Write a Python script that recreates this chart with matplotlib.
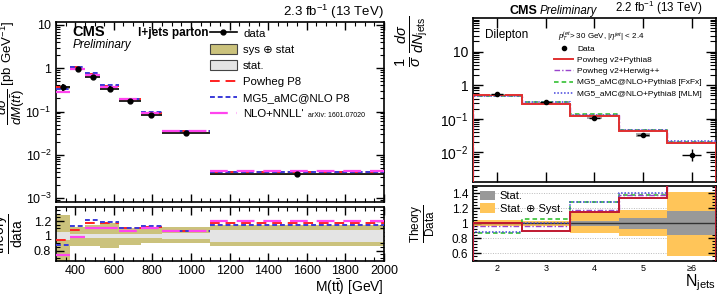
import numpy as np
import matplotlib
matplotlib.use("Agg")
import matplotlib.pyplot as plt
from matplotlib.patches import Patch, Rectangle
from matplotlib.lines import Line2D
from matplotlib.ticker import FixedLocator, MultipleLocator, NullFormatter, LogLocator

plt.rcParams['font.family'] = ['Liberation Sans', 'DejaVu Sans']
plt.rcParams['mathtext.fontset'] = 'custom'
plt.rcParams['mathtext.rm'] = 'Liberation Sans'
plt.rcParams['mathtext.it'] = 'Liberation Sans:italic'
plt.rcParams['mathtext.bf'] = 'Liberation Sans:bold'

# ---------------- left panel data: M(ttbar) ----------------
mtt_edges = [300, 375, 450, 530, 625, 740, 850, 1100, 2000]
mtt_data = [0.37, 0.97, 0.64, 0.34, 0.178, 0.085, 0.032, 0.0035]
mtt_data_err = [0.07, 0.06, 0.05, 0.04, 0.012, 0.006, 0.002, 0.0003]
mtt_powheg = [0.36, 1.05, 0.74, 0.39, 0.195, 0.094, 0.035, 0.0041]
mtt_mg5 = [0.33, 1.08, 0.77, 0.40, 0.197, 0.095, 0.0345, 0.0040]
mtt_nnll = [0.28, 0.95, 0.70, 0.37, 0.19, 0.093, 0.035, 0.0042]
ratio_powheg = [0.95, 1.08, 1.18, 1.17, 1.10, 1.12, 1.07, 1.18]
ratio_mg5 = [0.88, 1.13, 1.22, 1.19, 1.11, 1.13, 1.06, 1.15]
ratio_nnll = [0.74, 0.98, 1.10, 1.10, 1.07, 1.10, 1.07, 1.20]
tot_up = [1.28, 1.12, 1.15, 1.17, 1.10, 1.12, 1.12, 1.15]
tot_dn = [0.60, 0.86, 0.86, 0.83, 0.88, 0.90, 0.90, 0.86]
stat_up = [1.05, 1.03, 1.03, 1.03, 1.03, 1.03, 1.04, 1.08]
stat_dn = [0.95, 0.97, 0.97, 0.97, 0.97, 0.97, 0.96, 0.92]

# ---------------- right panel data: N_jets ----------------
nj_labels = ['2', '3', '4', '5', '≥6']
nj_data = [0.53, 0.31, 0.105, 0.033, 0.0085]
nj_data_lo = [0.50, 0.30, 0.095, 0.029, 0.0055]
nj_data_hi = [0.56, 0.32, 0.115, 0.037, 0.0125]
nj_powheg_p8 = [0.52, 0.28, 0.118, 0.042, 0.019]
nj_powheg_hw = [0.51, 0.30, 0.125, 0.045, 0.020]
nj_mg5_fxfx = [0.47, 0.32, 0.134, 0.046, 0.020]
nj_mg5_mlm = [0.48, 0.31, 0.133, 0.047, 0.021]
nj_r_powheg_p8 = [1.00, 0.90, 1.15, 1.33, 1.60]
nj_r_powheg_hw = [0.96, 0.97, 1.17, 1.37, 1.60]
nj_r_mg5_fxfx = [0.87, 1.05, 1.28, 1.38, 1.60]
nj_r_mg5_mlm = [0.89, 1.00, 1.28, 1.40, 1.60]
nj_syst_up = [1.04, 1.03, 1.15, 1.17, 1.42]
nj_syst_dn = [0.96, 0.97, 0.87, 0.83, 0.57]
nj_stat_up = [1.01, 1.01, 1.03, 1.07, 1.16]
nj_stat_dn = [0.99, 0.99, 0.97, 0.93, 0.84]

OLIVE = '#cbc27c'
LGRAY = '#e4e4e4'
ORANGE = '#ffc559'
DGRAY = '#999999'
RED = '#ff2020'
BLUE = '#3a3ad8'
MAG = '#ff44ee'

fig = plt.figure(figsize=(7.24, 2.96), dpi=100)

def style(ax, labelsize):
    ax.tick_params(which='both', direction='in', top=True, right=True, labelsize=labelsize)
    ax.tick_params(which='major', length=6, width=1)
    ax.tick_params(which='minor', length=3, width=0.8)
    for s in ax.spines.values():
        s.set_linewidth(1.2)

# ================= LEFT MAIN =================
axL = fig.add_axes([0.0773, 0.3176, 0.453, 0.608])
edges = np.array(mtt_edges, dtype=float)
lo, hi = edges[:-1], edges[1:]
ctr = 0.5 * (lo + hi)
wid = hi - lo
d = np.array(mtt_data)
axL.bar(lo, d * (np.array(tot_up) - np.array(tot_dn)) * 0.25, width=wid, bottom=d * (1 - (1 - np.array(tot_dn)) * 0.25),
        align='edge', color=OLIVE, edgecolor='none', zorder=1)
axL.hlines(d, lo, hi, colors='black', linewidth=1.2, zorder=3)
axL.hlines(mtt_powheg, lo, hi, colors=RED, linewidth=1.4, linestyles=(0, (5, 3)), zorder=4)
axL.hlines(mtt_mg5, lo, hi, colors=BLUE, linewidth=1.4, linestyles=(0, (2.5, 1.5)), zorder=4)
axL.hlines(mtt_nnll, lo, hi, colors=MAG, linewidth=1.6, linestyles=(0, (8, 4)), zorder=4)
axL.errorbar(ctr, d, yerr=mtt_data_err, fmt='o', color='black', ms=3.5, elinewidth=1.2, capsize=0, zorder=5)
axL.set_yscale('log')
axL.set_xlim(300, 2000)
axL.set_ylim(8.1e-4, 11.7)
axL.yaxis.set_major_locator(FixedLocator([1e-3, 1e-2, 1e-1, 1, 10]))
axL.set_yticklabels([r'$10^{-3}$', r'$10^{-2}$', r'$10^{-1}$', '1', '10'])
axL.yaxis.set_minor_locator(LogLocator(base=10, subs=np.arange(2, 10), numticks=20))
axL.yaxis.set_minor_formatter(NullFormatter())
axL.xaxis.set_major_locator(MultipleLocator(200))
axL.xaxis.set_minor_locator(MultipleLocator(50))
style(axL, 9)
axL.tick_params(axis='x', labelbottom=False)
axL.set_ylabel(r'$\dfrac{d\sigma}{dM(t\bar{t})}$ [pb GeV$^{-1}$]', fontsize=9.5)
axL.yaxis.set_label_coords(-0.088, 0.72)

axL.text(0.05, 0.944, 'CMS', transform=axL.transAxes, fontsize=10.5, fontweight='bold', va='center')
axL.text(0.05, 0.873, 'Preliminary', transform=axL.transAxes, fontsize=8.5, style='italic', va='center')
axL.text(0.465, 0.939, 'l+jets parton', transform=axL.transAxes, fontsize=8.5, fontweight='bold', va='center', ha='right')
axL.text(1.0, 1.008, r'2.3 fb$^{-1}$ (13 TeV)', transform=axL.transAxes, fontsize=9.5, ha='right', va='bottom')

hL = [Line2D([0], [0], color='black', marker='o', ms=3.5, lw=1.2),
      Patch(facecolor=OLIVE, edgecolor='#444444', linewidth=0.8),
      Patch(facecolor=LGRAY, edgecolor='#444444', linewidth=0.8),
      Line2D([0], [0], color=RED, lw=1.4, ls=(0, (5, 3))),
      Line2D([0], [0], color=BLUE, lw=1.4, ls=(0, (2.5, 1.5))),
      Line2D([0], [0], color=MAG, lw=1.6, ls=(0, (8, 4)))]
lL = ['data', 'sys ⊕ stat', 'stat.', 'Powheg P8', 'MG5_aMC@NLO P8', "NLO+NNLL'"]
leg = axL.legend(hL, lL, loc='upper left', bbox_to_anchor=(0.465, 0.975), frameon=False, fontsize=8.2,
                 handlelength=2.4, handleheight=1.0, labelspacing=0.45, handletextpad=0.55, borderaxespad=0.0,
                 borderpad=0.1)

# ================= LEFT RATIO =================
axLR = fig.add_axes([0.0773, 0.1182, 0.453, 0.1824])
axLR.bar(lo, np.array(tot_up) - np.array(tot_dn), width=wid, bottom=tot_dn, align='edge', color=OLIVE, edgecolor='none', zorder=1)
axLR.bar(lo, np.array(stat_up) - np.array(stat_dn), width=wid, bottom=stat_dn, align='edge', color=LGRAY, edgecolor='none', zorder=2)
axLR.hlines(ratio_powheg, lo, hi, colors=RED, linewidth=1.4, linestyles=(0, (5, 3)), zorder=4)
axLR.hlines(ratio_mg5, lo, hi, colors=BLUE, linewidth=1.4, linestyles=(0, (2.5, 1.5)), zorder=4)
axLR.hlines(ratio_nnll, lo, hi, colors=MAG, linewidth=1.6, linestyles=(0, (8, 4)), zorder=4)
axLR.set_xlim(300, 2000)
axLR.set_ylim(0.66, 1.39)
axLR.yaxis.set_major_locator(FixedLocator([0.8, 1.0, 1.2]))
axLR.set_yticklabels(['0.8', '1', '1.2'])
axLR.yaxis.set_minor_locator(MultipleLocator(0.05))
axLR.xaxis.set_major_locator(MultipleLocator(200))
axLR.xaxis.set_minor_locator(MultipleLocator(50))
style(axLR, 9)
axLR.tick_params(axis='x', pad=3)
axLR.set_ylabel(r'$\dfrac{\mathrm{theory}}{\mathrm{data}}$', fontsize=10)
axLR.yaxis.set_label_coords(-0.093, 0.5)
axLR.text(1.0, -0.31, r'M(t$\bar{\mathrm{t}}$) [GeV]', transform=axLR.transAxes, fontsize=10, ha='right', va='top')

# ================= RIGHT MAIN =================
axR = fig.add_axes([0.6533, 0.3851, 0.3356, 0.554])
nx = np.arange(2, 7)
nedges = np.arange(1.5, 7.0, 1.0)

def step(ax, vals, **kw):
    ax.stairs(vals, nedges, **kw)

step(axR, nj_mg5_fxfx, color='#22bb22', lw=1.1, ls=(0, (3, 2)), zorder=3)
step(axR, nj_mg5_mlm, color='#4444dd', lw=1.1, ls=(0, (1, 1.2)), zorder=3)
step(axR, nj_powheg_hw, color='#9944cc', lw=1.0, ls=(0, (4, 1.5, 1, 1.5)), zorder=3)
step(axR, nj_powheg_p8, color='#e03030', lw=1.4, zorder=4)
for xi, a, b in zip(nx[:4], nj_data_lo[:4], nj_data_hi[:4]):
    axR.add_patch(Rectangle((xi - 0.15, a), 0.3, b - a, facecolor='#aaaaaa', edgecolor='none', zorder=5))
ndata = np.array(nj_data)
yerr = [ndata - np.array(nj_data_lo), np.array(nj_data_hi) - ndata]
axR.errorbar(nx[:4], ndata[:4], xerr=0.12, fmt='o', color='black', ms=3, elinewidth=1.0, capsize=0, zorder=6)
axR.errorbar(nx[4:], ndata[4:], xerr=0.2, yerr=[yerr[0][4:], yerr[1][4:]], fmt='o', color='black', ms=3,
             elinewidth=1.0, capsize=0, zorder=6)
axR.set_yscale('log')
axR.set_xlim(1.5, 6.5)
axR.set_ylim(1.3e-3, 100)
axR.yaxis.set_major_locator(FixedLocator([1e-2, 1e-1, 1, 10]))
axR.set_yticklabels([r'$10^{-2}$', r'$10^{-1}$', '1', '10'])
axR.yaxis.set_minor_locator(LogLocator(base=10, subs=np.arange(2, 10), numticks=20))
axR.yaxis.set_minor_formatter(NullFormatter())
axR.xaxis.set_major_locator(FixedLocator(nx))
style(axR, 10)
axR.tick_params(axis='x', labelbottom=False)
axR.tick_params(which='minor', length=4)
axR.tick_params(which='major', length=7)
axR.set_ylabel(r'$\frac{1}{\sigma}\,\frac{d\sigma}{dN_{\mathrm{jets}}}$', fontsize=15)
axR.yaxis.set_label_coords(-0.175, 0.86)
axR.text(0.05, 0.895, 'Dilepton', transform=axR.transAxes, fontsize=8.5, va='center')
axR.text(0.35, 0.885, r'$p_T^{jet}$> 30 GeV, $|\eta^{jet}|$ < 2.4', transform=axR.transAxes, fontsize=5.8, va='center')
axR.text(0.265, 1.008, 'CMS', transform=axR.transAxes, fontsize=9, fontweight='bold', ha='right', va='bottom')
axR.text(0.275, 1.008, 'Preliminary', transform=axR.transAxes, fontsize=8.3, style='italic', ha='left', va='bottom')
axR.text(0.947, 1.008, r'2.2 fb$^{-1}$ (13 TeV)', transform=axR.transAxes, fontsize=8.3, ha='right', va='bottom')
hR = [Line2D([0], [0], color='black', marker='o', ms=3, lw=0),
      Line2D([0], [0], color='#e03030', lw=1.4),
      Line2D([0], [0], color='#9944cc', lw=1.0, ls=(0, (4, 1.5, 1, 1.5))),
      Line2D([0], [0], color='#22bb22', lw=1.1, ls=(0, (3, 2))),
      Line2D([0], [0], color='#4444dd', lw=1.1, ls=(0, (1, 1.2)))]
lR = ['Data', 'Powheg v2+Pythia8', 'Powheg v2+Herwig++', 'MG5_aMC@NLO+Pythia8 [FxFx]', 'MG5_aMC@NLO+Pythia8 [MLM]']
axR.legend(hR, lR, loc='upper left', bbox_to_anchor=(0.33, 0.84), frameon=False, fontsize=6.0,
           handlelength=2.3, labelspacing=0.4, handletextpad=0.5, borderaxespad=0.0, borderpad=0.1)

# ================= RIGHT RATIO =================
axRR = fig.add_axes([0.6533, 0.1182, 0.3356, 0.255])
for g in [0.6, 0.8, 1.2, 1.4]:
    axRR.axhline(g, color='#bbbbbb', lw=0.7, ls=(0, (1, 1.5)), zorder=0)
axRR.bar(nedges[:-1], np.array(nj_syst_up) - np.array(nj_syst_dn), width=1.0, bottom=nj_syst_dn, align='edge',
         color=ORANGE, edgecolor='none', zorder=1)
axRR.bar(nedges[:-1], np.array(nj_stat_up) - np.array(nj_stat_dn), width=1.0, bottom=nj_stat_dn, align='edge',
         color=DGRAY, edgecolor='none', zorder=2)
axRR.axhline(1.0, color='#333333', lw=1.0, zorder=3)
step(axRR, nj_r_mg5_fxfx, color='#22bb22', lw=1.1, ls=(0, (3, 2)), zorder=4)
step(axRR, nj_r_mg5_mlm, color='#4444dd', lw=1.1, ls=(0, (1, 1.2)), zorder=4)
step(axRR, nj_r_powheg_hw, color='#9944cc', lw=1.0, ls=(0, (4, 1.5, 1, 1.5)), zorder=4)
step(axRR, nj_r_powheg_p8, color='#c01830', lw=1.4, zorder=5)
axRR.set_xlim(1.5, 6.5)
axRR.set_ylim(0.5, 1.5)
axRR.yaxis.set_major_locator(FixedLocator([0.6, 0.8, 1.0, 1.2, 1.4]))
axRR.set_yticklabels(['0.6', '0.8', '1', '1.2', '1.4'])
axRR.yaxis.set_minor_locator(MultipleLocator(0.04))
axRR.xaxis.set_major_locator(FixedLocator(nx))
axRR.set_xticklabels(nj_labels)
style(axRR, 8.5)
axRR.tick_params(axis='x', labelsize=6.5, pad=2)
axRR.tick_params(axis='x', which='major', length=0)
axRR.set_ylabel(r'$\dfrac{\mathrm{Theory}}{\mathrm{Data}}$', fontsize=8.5)
axRR.yaxis.set_label_coords(-0.15, 0.5)
axRR.legend([Patch(facecolor=DGRAY), Patch(facecolor=ORANGE)], ['Stat.', 'Stat. ⊕ Syst.'], loc='upper left',
            bbox_to_anchor=(0.0, 1.02), frameon=False, fontsize=8, handlelength=1.4, handleheight=0.9,
            labelspacing=0.2, handletextpad=0.4, borderaxespad=0.2)
axRR.text(1.0, -0.15, r'N$_{\mathrm{jets}}$', transform=axRR.transAxes, fontsize=11.5, ha='right', va='top')

# arXiv reference placed right after the NLO+NNLL' legend label
fig.canvas.draw()
renderer = fig.canvas.get_renderer()
bb = leg.get_texts()[-1].get_window_extent(renderer)
inv = axL.transAxes.inverted()
x0, y0 = inv.transform((bb.x1 + 4, 0.5 * (bb.y0 + bb.y1)))
axL.text(x0, y0 - 0.005, 'arXiv: 1601.07020', transform=axL.transAxes, fontsize=5, va='center')

fig.savefig('out.png', dpi=100)
